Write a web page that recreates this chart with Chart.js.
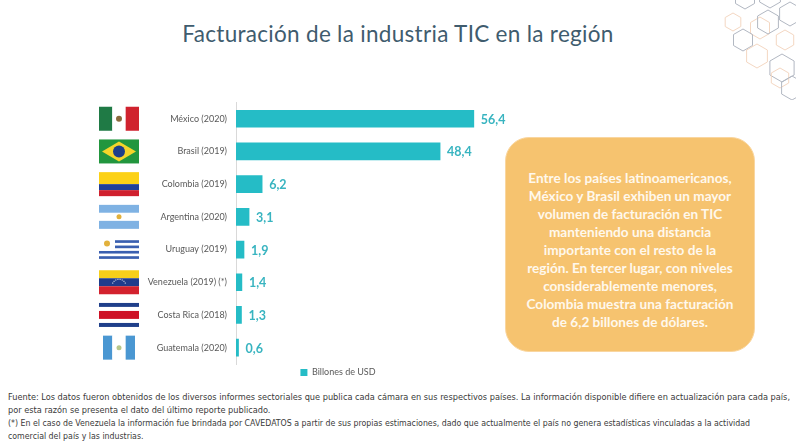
<!DOCTYPE html>
<html>
<head>
<meta charset="utf-8">
<script src="https://cdn.jsdelivr.net/npm/chart.js@4.4.1/dist/chart.umd.min.js"></script>
<style>
  html, body { margin: 0; padding: 0; background: #fff; }
  body { width: 796px; height: 445px; position: relative; overflow: hidden; font-family: Lato, "Liberation Sans", sans-serif; }
  #title { position: absolute; left: 0; width: 796px; top: 20px; text-align: center; font-size: 22.5px; color: #3f5c6e; letter-spacing: 0.3px; }
  #chartBox { position: absolute; left: 90px; top: 88px; width: 496px; height: 299px; }
  #note { position: absolute; left: 505px; top: 137px; width: 250px; height: 215px; border-radius: 24px; background: #f6c36f; border: 1px solid #f9d6a0; box-sizing: border-box; z-index: 2; display: flex; align-items: center; justify-content: center; text-align: center; color: #fff8ec; font-weight: bold; font-size: 13.6px; line-height: 17.9px; padding-top: 13px; }
  .foot { position: absolute; left: 8px; font-family: "DejaVu Sans Condensed", "Liberation Sans", sans-serif; font-size: 8.4px; color: #3a3a3a; white-space: nowrap; transform-origin: 0 0; }
  #hex { position: absolute; left: 700px; top: 0; opacity: 0.65; }
</style>
</head>
<body>
<div id="title">Facturación de la industria TIC en la región</div>
<svg id="hex" width="96" height="100"></svg>
<div id="chartBox"><canvas id="chart"></canvas></div>
<div id="note"><div>Entre los países latinoamericanos,<br>México y Brasil exhiben un mayor<br>volumen de facturación en TIC<br>manteniendo una distancia<br>importante con el resto de la<br>región. En tercer lugar, con niveles<br>considerablemente menores,<br>Colombia muestra una facturación<br>de 6,2 billones de dólares.</div></div>
<div class="foot" id="f1" style="top:392px">Fuente: Los datos fueron obtenidos de los diversos informes sectoriales que publica cada cámara en sus respectivos países. La información disponible difiere en actualización para cada país,</div>
<div class="foot" id="f2" style="top:405px">por esta razón se presenta el dato del último reporte publicado.</div>
<div class="foot" id="f3" style="top:418px">(*) En el caso de Venezuela la información fue brindada por CAVEDATOS a partir de sus propias estimaciones, dado que actualmente el país no genera estadísticas vinculadas a la actividad</div>
<div class="foot" id="f4" style="top:431px">comercial del país y las industrias.</div>
<script>
// --- Datos ---
const countries = ["México (2020)", "Brasil (2019)", "Colombia (2019)", "Argentina (2020)", "Uruguay (2019)", "Venezuela (2019) (*)", "Costa Rica (2018)", "Guatemala (2020)"];
const flagCodes = ["mx", "br", "co", "ar", "uy", "ve", "cr", "gt"];
const revenue = [56.4, 48.4, 6.2, 3.1, 1.9, 1.4, 1.3, 0.6];
const seriesName = "Billones de USD";

const barColor = "#25bcc6";
const valueColor = "#38b4c0";

// --- Decoración hexagonal ---
const hexes = [
    [45, -2, 11, "#8a93a3"], [70, -4, 12, "#8a93a3"], [90, 14, 12, "#8a93a3"],
    [33, 22, 9, "#efc3a3"], [60, 28, 11, "#efc3a3"], [85, 40, 10, "#efc3a3"],
    [43, 40, 11, "#8a93a3"], [68, 22, 12, "#8a93a3"], [57, 56, 12, "#efc3a3"],
    [82, 68, 14, "#8a93a3"], [80, 78, 10, "#efc3a3"], [92, 88, 12, "#8a93a3"]
];
const svg = document.getElementById("hex");
hexes.forEach(([cx, cy, r, col]) => {
    let pts = [];
    for (let k = 0; k < 6; k++) {
        const a = k * Math.PI / 3 - Math.PI / 2;
        pts.push((cx + r * Math.cos(a)).toFixed(1) + "," + (cy + r * Math.sin(a)).toFixed(1));
    }
    const p = document.createElementNS("http://www.w3.org/2000/svg", "polygon");
    p.setAttribute("points", pts.join(" "));
    p.setAttribute("fill", "none");
    p.setAttribute("stroke", col);
    p.setAttribute("stroke-width", "1");
    svg.appendChild(p);
});

// --- Notas al pie ajustadas ---
const footPairs = [["f1", "f2", 782], ["f3", "f4", 742]];
footPairs.forEach(([id, other, target]) => {
    const el = document.getElementById(id);
    const s = target / el.getBoundingClientRect().width;
    el.style.transform = "scaleX(" + s + ")";
    document.getElementById(other).style.transform = "scaleX(" + s + ")";
});

// --- Banderas ---
function drawFlag(ctx, code, x, y, w, h) {
    const r = (c, a, b, cw, ch) => { ctx.fillStyle = c; ctx.fillRect(a, b, cw, ch); };
    ctx.save();
    if (code === "mx") {
        r("#1f7a45", x, y, w / 3, h); r("#ffffff", x + w / 3, y, w / 3, h); r("#d0222e", x + 2 * w / 3, y, w / 3, h);
        ctx.fillStyle = "#8a6a3c"; ctx.beginPath(); ctx.arc(x + w / 2, y + h / 2, 3, 0, 7); ctx.fill();
    } else if (code === "br") {
        r("#22963e", x, y, w, h);
        ctx.fillStyle = "#f4d52a"; ctx.beginPath();
        ctx.moveTo(x + w / 2, y + 2); ctx.lineTo(x + w - 3, y + h / 2); ctx.lineTo(x + w / 2, y + h - 2); ctx.lineTo(x + 3, y + h / 2); ctx.closePath(); ctx.fill();
        ctx.fillStyle = "#1d3f8a"; ctx.beginPath(); ctx.arc(x + w / 2, y + h / 2, 6, 0, 7); ctx.fill();
    } else if (code === "co") {
        r("#fcd116", x, y, w, h / 2); r("#1f3f99", x, y + h / 2, w, h / 4); r("#d0202e", x, y + 3 * h / 4, w, h / 4);
    } else if (code === "ar") {
        r("#7fb2e3", x, y, w, h / 3); r("#ffffff", x, y + h / 3, w, h / 3); r("#7fb2e3", x, y + 2 * h / 3, w, h / 3);
        ctx.fillStyle = "#e2b13c"; ctx.beginPath(); ctx.arc(x + w / 2, y + h / 2, 2.5, 0, 7); ctx.fill();
    } else if (code === "uy") {
        r("#ffffff", x, y, w, h);
        for (let k = 1; k < 9; k += 2) r("#3a5fb0", x, y + k * h / 9, w, h / 9);
        r("#ffffff", x, y, w * 0.4, h * 5 / 9);
        ctx.fillStyle = "#e2b13c"; ctx.beginPath(); ctx.arc(x + w * 0.2, y + h * 0.25, 3, 0, 7); ctx.fill();
    } else if (code === "ve") {
        r("#f7cf1a", x, y, w, h / 3); r("#1f3c8c", x, y + h / 3, w, h / 3); r("#d3222e", x, y + 2 * h / 3, w, h / 3);
        ctx.fillStyle = "#ffffff";
        for (let k = 0; k < 8; k++) { const a = Math.PI * (1.15 + k * 0.1); ctx.fillRect(x + w / 2 + 7 * Math.cos(a) - 0.5, y + h / 2 + 4 + 7 * Math.sin(a) - 0.5, 1, 1); }
    } else if (code === "cr") {
        r("#1f3f8a", x, y, w, h / 6); r("#ffffff", x, y + h / 6, w, h / 6); r("#ce1126", x, y + h / 3, w, h / 3);
        r("#ffffff", x, y + 2 * h / 3, w, h / 6); r("#1f3f8a", x, y + 5 * h / 6, w, h / 6);
    } else if (code === "gt") {
        r("#4a97d2", x + 4, y, w / 3 - 4, h); r("#ffffff", x + w / 3, y, w / 3, h); r("#4a97d2", x + 2 * w / 3, y, w / 3 - 4, h);
        ctx.fillStyle = "#b7c78a"; ctx.beginPath(); ctx.arc(x + w / 2, y + h / 2, 2.5, 0, 7); ctx.fill();
    }
    ctx.restore();
}

const flagsPlugin = {
    id: "flags",
    afterDraw(chart) {
        const ys = chart.scales.y;
        const ctx = chart.ctx;
        flagCodes.forEach((code, i) => {
            const cy = ys.getPixelForValue(i);
            drawFlag(ctx, code, 9, cy - 12, 40, 24);
        });
    }
};

// --- Etiquetas de valor ---
const valueLabels = {
    id: "valueLabels",
    afterDatasetsDraw(chart) {
        const ctx = chart.ctx;
        const meta = chart.getDatasetMeta(0);
        ctx.save();
        ctx.font = "bold 12.5px Lato, 'Liberation Sans', sans-serif";
        ctx.fillStyle = valueColor;
        ctx.textAlign = "left";
        ctx.textBaseline = "middle";
        meta.data.forEach((bar, i) => {
            ctx.fillText(revenue[i].toFixed(1).replace(".", ","), bar.x + 7, bar.y + 1);
        });
        ctx.restore();
    }
};

// --- Gráfico ---
new Chart(document.getElementById("chart"), {
    type: "bar",
    data: {
        labels: countries,
        datasets: [{ label: seriesName, data: revenue, backgroundColor: barColor, barThickness: 17 }]
    },
    options: {
        indexAxis: "y",
        responsive: true,
        maintainAspectRatio: false,
        animation: false,
        layout: { padding: 0 },
        scales: {
            x: { display: false, min: 0, max: 83 },
            y: {
                grid: { display: false, drawTicks: false },
                border: { display: true, color: "#d9d9d9", width: 1 },
                ticks: { color: "#595959", padding: 9, font: { size: 9, family: "Lato, 'Liberation Sans', sans-serif" } },
                afterFit(scale) { scale.width = 146; }
            }
        },
        plugins: {
            legend: {
                position: "bottom",
                labels: { boxWidth: 7, boxHeight: 7, padding: 4, color: "#595959", font: { size: 9, family: "Lato, 'Liberation Sans', sans-serif" } }
            },
            tooltip: { enabled: false }
        }
    },
    plugins: [flagsPlugin, valueLabels]
});
</script>
</body>
</html>
